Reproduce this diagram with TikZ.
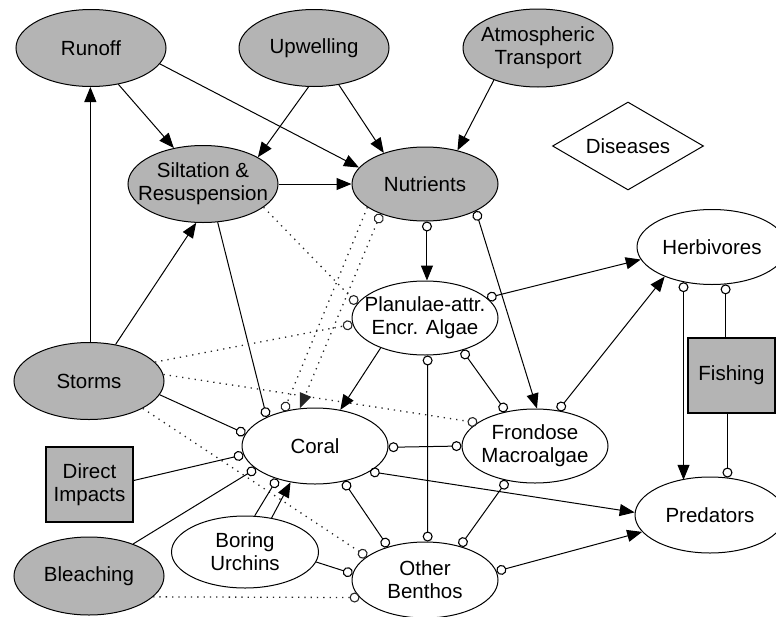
\documentclass[tikz,border=0pt]{standalone}
\usepackage{fontspec}
\setmainfont{Liberation Sans}
\usetikzlibrary{shapes.geometric,arrows.meta,calc}
\definecolor{ngray}{RGB}{180,180,180}
\begin{document}
\begin{tikzpicture}[x=1pt,y=-1pt,
  ellG/.style={ellipse,draw,fill=ngray,line width=1pt,inner sep=0pt,minimum width=150pt,minimum height=77pt},
  ellW/.style={ellipse,draw,fill=white,line width=1pt,inner sep=0pt,minimum width=146pt,minimum height=74pt},
  boxG/.style={rectangle,draw,fill=ngray,line width=1.4pt,inner sep=0pt,minimum width=87pt,minimum height=75pt},
  lbl/.style={font=\fontsize{20.5}{23}\selectfont,align=center,inner sep=0pt},
  con/.style={line width=1pt},
  dot/.style={line width=1.3pt,dash pattern=on 1.3pt off 5pt,black!85},
  >={Triangle[length=15pt,width=12pt]},
  oc/.tip={Circle[open,length=10pt,width=10pt,line width=1.1pt]}
]
\useasboundingbox (0,0) rectangle (776,616);
\clip (0,0) rectangle (776,616);

% nodes
\node[ellG,label={[lbl]center:Runoff}] (runoff) at (91,48) {};
\node[ellG,label={[lbl]center:Upwelling}] (upwell) at (314,48) {};
\node[ellG,minimum height=78pt,label={[lbl]center:{Atmospheric\\Transport}}] (atmos) at (538,48) {};
\node[diamond,draw,fill=white,line width=1pt,inner sep=0pt,minimum width=151pt,minimum height=88pt,label={[lbl]center:Diseases}] (dis) at (628,146) {};
\node[ellG,label={[lbl]center:{Siltation \&\\Resuspension}}] (silt) at (203,184) {};
\node[ellG,minimum width=146pt,minimum height=74pt,label={[lbl]center:Nutrients}] (nutr) at (425,184) {};
\node[ellW,minimum width=150pt,minimum height=75pt,label={[lbl]center:Herbivores}] (herb) at (712,247) {};
\node[ellW,label={[lbl]center:{Planulae-attr.\\Encr. Algae}}] (plan) at (425,318) {};
\node[ellG,label={[lbl]center:Storms}] (storms) at (89,381) {};
\node[boxG,label={[lbl]center:Fishing}] (fish) at (731.5,375.5) {};
\node[ellW,minimum height=76pt,label={[lbl]center:Coral}] (coral) at (315,446) {};
\node[ellW,label={[lbl]center:{Frondose\\Macroalgae}}] (frond) at (535,446) {};
\node[boxG,label={[lbl]center:{Direct\\Impacts}}] (direct) at (89.5,484.5) {};
\node[ellW,minimum width=150pt,minimum height=76pt,label={[lbl]center:Predators}] (pred) at (710,515) {};
\node[ellW,minimum width=147pt,minimum height=72pt,label={[lbl]center:{Boring\\Urchins}}] (urch) at (245,552) {};
\node[ellW,minimum height=76pt,label={[lbl]center:{Other\\Benthos}}] (benth) at (425,580) {};
\node[ellG,minimum height=78pt,label={[lbl]center:Bleaching}] (bleach) at (89,576) {};

% solid arrows
\draw[con,->] (runoff.-53) -- (silt.129);
\draw[con,->] (runoff.-13) -- (nutr.166);
\draw[con,->] (upwell.-98) -- (silt.26);
\draw[con,->] (upwell.-56) -- (nutr.143);
\draw[con,->] (atmos.-144) -- (nutr.46);
\draw[con,->] (silt.0) -- (nutr.180);
\draw[con,->] (storms.88) -- (storms.88 |- runoff.south);
\draw[con,->] (storms.54) -- (silt.-100);
\draw[con,-oc] (silt.-69) -- (coral.149);

% dotted
\draw[dot,oc->] (nutr.214) -- (coral.112);
\draw[dot,-oc] (nutr.202) -- (coral.132);
\draw[dot,-oc] (silt.-21) -- (plan.168);
\draw[dot,-oc] (storms.16) -- (plan.185);
\draw[dot,-oc] (storms.5) -- (frond.158);
\draw[dot,-oc] (storms.-27) -- (benth.158);
\draw[dot,-oc] (bleach.-18) -- (benth.195);

% coral links
\draw[con,-oc] (storms.-11) -- (coral.170);
\draw[con,-oc] ([yshift=4pt]direct.east) -- (coral.187);
\draw[con,-oc] (bleach.36) -- (coral.201);
\draw[con,-oc] (urch.75) -- (coral.221);
\draw[con,->] (urch.52) -- (coral.236);
\draw[con,-oc] (urch.-8) -- (benth.175);
\draw[con,oc-oc] (coral.-1) -- (frond.180);
\draw[con,oc->] (coral.-25) -- (pred.178);
\draw[con,oc-oc] (coral.-51) -- (benth.138);

% planulae links
\draw[con,oc-oc] (plan.-86) -- (benth.86);
\draw[con,->] (plan.214) -- (coral.55);
\draw[con,oc-oc] (plan.-41) -- (frond.130);
\draw[con,oc->] (plan.18) -- (herb.190);
\draw[con,oc->] (nutr.-87) -- (plan.87);
\draw[con,oc->] (nutr.-28) -- (frond.87);

% right side
\draw[con,oc->] (frond.57) -- (herb.212);
\draw[con,oc-oc] (frond.231) -- (benth.44);
\draw[con,oc->] (benth.7) -- (pred.194);
\draw[con,oc->] (herb.231) -- (herb.231 |- pred.131);
\draw[con,oc-] (herb.-70) -- (herb.-70 |- fish.north);
\draw[con,-oc] (pred.65 |- fish.south) -- (pred.65);
\end{tikzpicture}
\end{document}
